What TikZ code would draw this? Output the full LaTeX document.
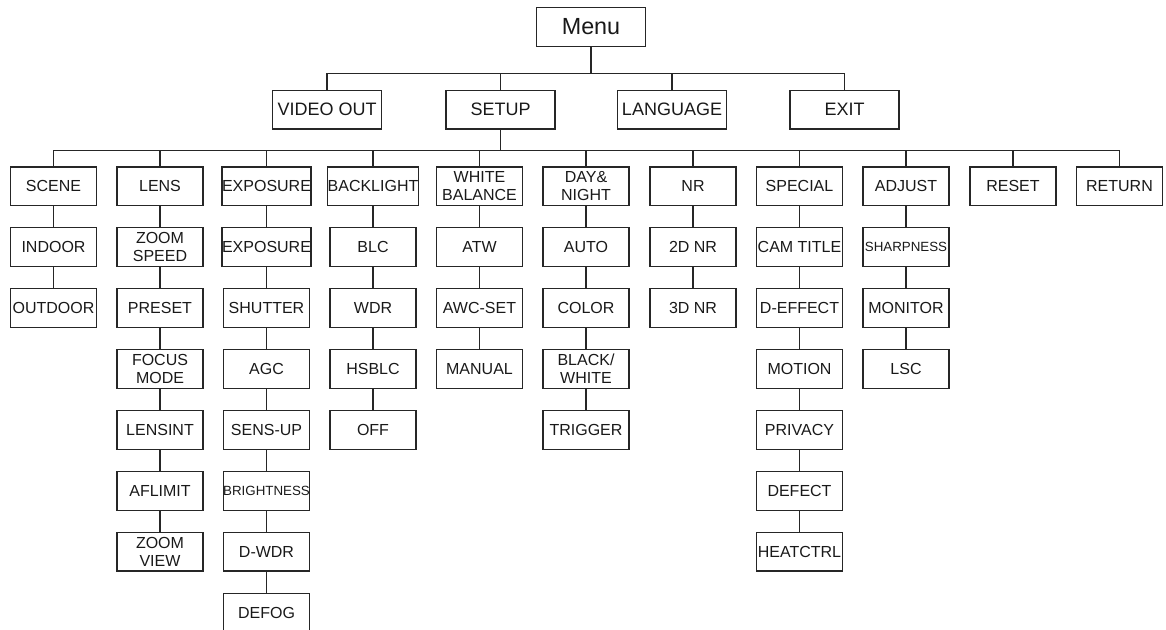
\documentclass[tikz,border=0pt]{standalone}
\usepackage{fontspec}
\setmainfont{Liberation Sans}
\begin{document}
\begin{tikzpicture}[x=0.75pt,y=-0.75pt,
  box/.style={draw=black!85, line width=0.9pt, minimum width=64.5pt, minimum height=29pt,
    inner sep=0pt, align=center, font=\fontsize{12}{13.5}\selectfont, text=black!90},
  topbox/.style={box, minimum width=81.75pt, font=\fontsize{13.5}{15}\selectfont},
  menubox/.style={box, minimum width=81.5pt, minimum height=29.5pt, font=\fontsize{17.5}{20}\selectfont},
  small/.style={font=\fontsize{10}{12}\selectfont},
  link/.style={draw=black!85, line width=0.9pt}]
\useasboundingbox (0,0) rectangle (1166,630);

% root and first level
\node[menubox] (menu) at (591,27) {Menu};
\node[topbox] (vout) at (327,109.7) {VIDEO OUT};
\node[topbox] (setup) at (500.5,109.7) {SETUP};
\node[topbox] (lang) at (672,109.7) {LANGUAGE};
\node[topbox] (exit) at (844.5,109.7) {EXIT};

% column heads
\node[box] (a0) at (53.5,186.3) {SCENE};
\node[box] (b0) at (160,186.3) {LENS};
\node[box] (c0) at (266.5,186.3) {EXPOSURE};
\node[box] (d0) at (373,186.3) {BACKLIGHT};
\node[box] (e0) at (479.5,186.3) {WHITE\\BALANCE};
\node[box] (f0) at (586,186.3) {DAY\&\\NIGHT};
\node[box] (g0) at (693,186.3) {NR};
\node[box] (h0) at (799.5,186.3) {SPECIAL};
\node[box] (i0) at (906,186.3) {ADJUST};
\node[box] (j0) at (1013,186.3) {RESET};
\node[box] (k0) at (1119.5,186.3) {RETURN};

% SCENE
\node[box] (a1) at (53.5,247.2) {INDOOR};
\node[box] (a2) at (53.5,308.1) {OUTDOOR};
% LENS
\node[box] (b1) at (160,247.2) {ZOOM\\SPEED};
\node[box] (b2) at (160,308.1) {PRESET};
\node[box] (b3) at (160,369) {FOCUS\\MODE};
\node[box] (b4) at (160,429.9) {LENSINT};
\node[box] (b5) at (160,490.8) {AFLIMIT};
\node[box] (b6) at (160,551.7) {ZOOM\\VIEW};
% EXPOSURE
\node[box] (c1) at (266.5,247.2) {EXPOSURE};
\node[box] (c2) at (266.5,308.1) {SHUTTER};
\node[box] (c3) at (266.5,369) {AGC};
\node[box] (c4) at (266.5,429.9) {SENS-UP};
\node[box,small] (c5) at (266.5,490.8) {BRIGHTNESS};
\node[box] (c6) at (266.5,551.7) {D-WDR};
\node[box] (c7) at (266.5,612.6) {DEFOG};
% BACKLIGHT
\node[box] (d1) at (373,247.2) {BLC};
\node[box] (d2) at (373,308.1) {WDR};
\node[box] (d3) at (373,369) {HSBLC};
\node[box] (d4) at (373,429.9) {OFF};
% WHITE BALANCE
\node[box] (e1) at (479.5,247.2) {ATW};
\node[box] (e2) at (479.5,308.1) {AWC-SET};
\node[box] (e3) at (479.5,369) {MANUAL};
% DAY & NIGHT
\node[box] (f1) at (586,247.2) {AUTO};
\node[box] (f2) at (586,308.1) {COLOR};
\node[box] (f3) at (586,369) {BLACK/\\WHITE};
\node[box] (f4) at (586,429.9) {TRIGGER};
% NR
\node[box] (g1) at (693,247.2) {2D NR};
\node[box] (g2) at (693,308.1) {3D NR};
% SPECIAL
\node[box] (h1) at (799.5,247.2) {CAM TITLE};
\node[box] (h2) at (799.5,308.1) {D-EFFECT};
\node[box] (h3) at (799.5,369) {MOTION};
\node[box] (h4) at (799.5,429.9) {PRIVACY};
\node[box] (h5) at (799.5,490.8) {DEFECT};
\node[box] (h6) at (799.5,551.7) {HEATCTRL};
% ADJUST
\node[box,small] (i1) at (906,247.2) {SHARPNESS};
\node[box] (i2) at (906,308.1) {MONITOR};
\node[box] (i3) at (906,369) {LSC};

% connectors: menu level
\coordinate (mbar) at (menu.south |- 0,73.3);
\draw[link] (menu.south) -- (mbar);
\foreach \n in {vout,setup,lang,exit} \draw[link] (\n.north) |- (mbar);

% connectors: setup level
\coordinate (sbar) at (setup.south |- 0,150.7);
\draw[link] (setup.south) -- (sbar);
\foreach \n in {a0,b0,c0,d0,e0,f0,g0,h0,i0,j0,k0} \draw[link] (\n.north) |- (sbar);

% columns
\draw[link] (a0) -- (a1) -- (a2);
\draw[link] (b0) -- (b1) -- (b2) -- (b3) -- (b4) -- (b5) -- (b6);
\draw[link] (c0) -- (c1) -- (c2) -- (c3) -- (c4) -- (c5) -- (c6) -- (c7);
\draw[link] (d0) -- (d1) -- (d2) -- (d3) -- (d4);
\draw[link] (e0) -- (e1) -- (e2) -- (e3);
\draw[link] (f0) -- (f1) -- (f2) -- (f3) -- (f4);
\draw[link] (g0) -- (g1) -- (g2);
\draw[link] (h0) -- (h1) -- (h2) -- (h3) -- (h4) -- (h5) -- (h6);
\draw[link] (i0) -- (i1) -- (i2) -- (i3);
\end{tikzpicture}
\end{document}
